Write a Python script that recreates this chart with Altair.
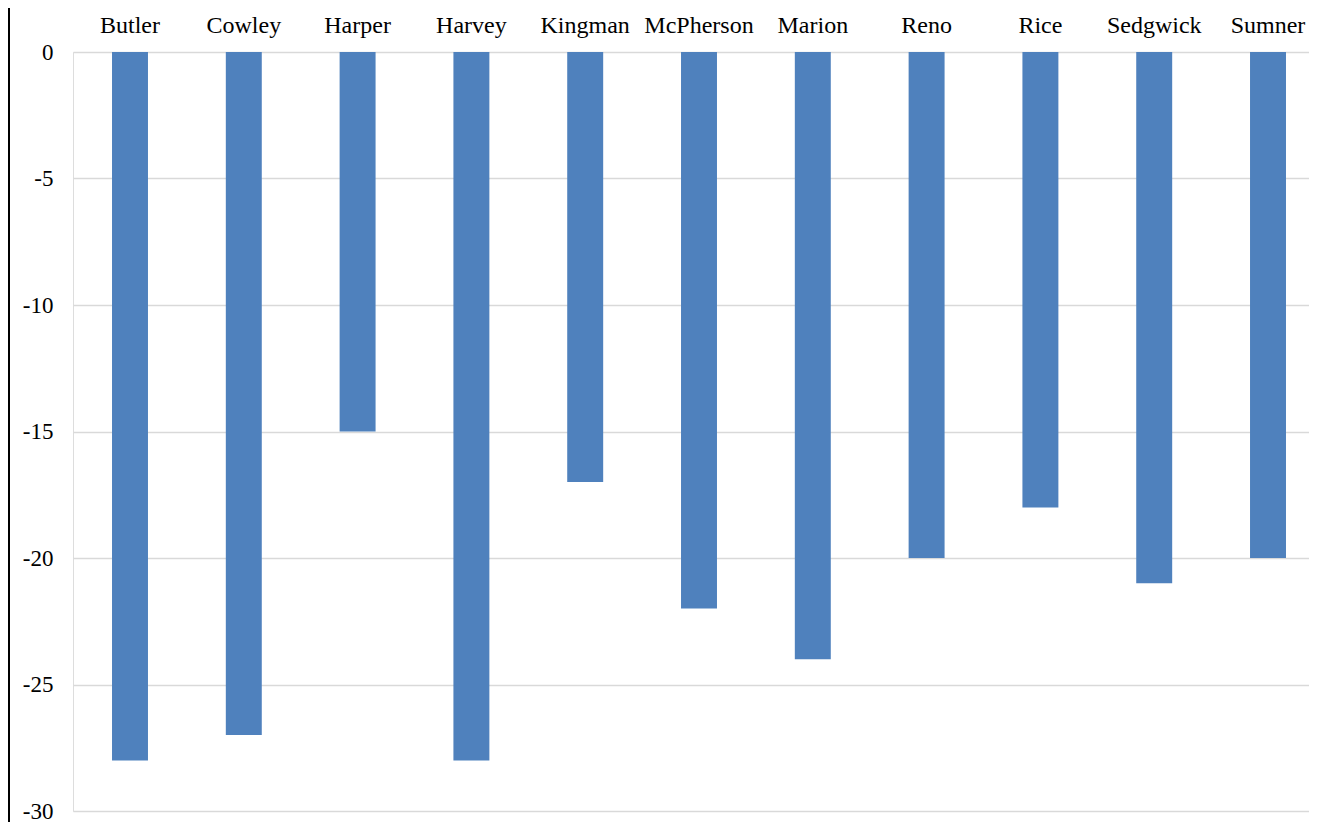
import altair as alt
import pandas as pd

counties = ["Butler", "Cowley", "Harper", "Harvey", "Kingman", "McPherson",
            "Marion", "Reno", "Rice", "Sedgwick", "Sumner"]
values = [-28, -27, -15, -28, -17, -22, -24, -20, -18, -21, -20]

df = pd.DataFrame({"county": counties, "value": values})

FONT = "Times New Roman, Liberation Serif, DejaVu Serif, serif"

bars = alt.Chart(df).mark_bar(color="#4F81BD").encode(
    x=alt.X("county:N", sort=None, title=None,
            scale=alt.Scale(paddingInner=0.684, paddingOuter=0.2725, align=0.629),
            axis=alt.Axis(orient="top", domain=False, ticks=False, grid=False,
                          labelAngle=0, labelFont=FONT, labelFontSize=24,
                          labelColor="#000000", labelPadding=20,
                          labelBaseline="alphabetic")),
    y=alt.Y("value:Q", title=None,
            scale=alt.Scale(domain=[-30, 0], nice=False, zero=False),
            axis=alt.Axis(values=[0, -5, -10, -15, -20, -25, -30], domain=False,
                          ticks=False, grid=True, gridColor="#D9D9D9",
                          gridWidth=1.5, labelFont=FONT, labelFontSize=23,
                          labelColor="#000000", labelPadding=20,
                          labelExpr="'' + datum.value")),
)

border = alt.Chart(df).mark_rule(color="#000000", strokeWidth=2).encode(
    x=alt.value(-64.5), y=alt.value(-60), y2=alt.value(800)
)

chart = alt.layer(border, bars).properties(
    width=1236, height=759,
    autosize=alt.AutoSizeParams(type="none"),
    padding={"left": 65, "top": 44, "right": 0, "bottom": 11},
).configure_view(stroke=None).configure(background="#ffffff")

chart.save("out.html", embed_options={"renderer": "svg", "actions": False})
